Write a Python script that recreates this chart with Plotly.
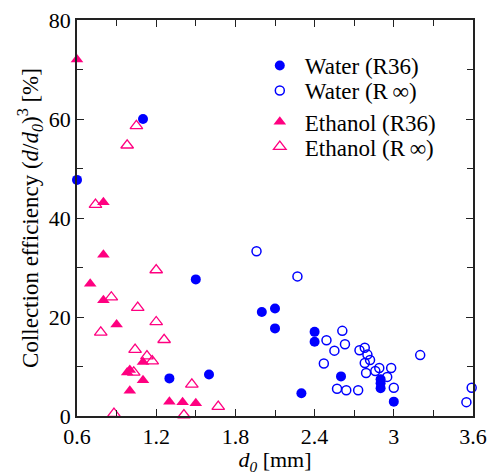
import plotly.graph_objects as go

# Water (R36) - filled circles
water_r36_d = [0.6, 1.1, 1.3, 1.5, 1.6, 2.0, 2.1, 2.1, 2.3, 2.4, 2.4, 2.6, 2.9, 2.9, 2.9, 3.0]
water_r36_v = [47.7, 60.0, 7.6, 27.6, 8.4, 21.0, 21.7, 17.7, 4.6, 17.0, 15.0, 8.0, 7.4, 6.6, 5.6, 2.9]

# Water (R inf) - open circles
water_rinf_d = [1.96, 2.27, 2.61, 2.49, 2.63, 2.55, 2.74, 2.78, 2.80, 2.82, 2.78, 2.47,
                3.20, 2.89, 2.98, 2.86, 2.79, 2.95, 2.57, 2.64, 2.73, 3.0, 3.55, 3.59]
water_rinf_v = [33.3, 28.2, 17.2, 15.3, 14.5, 13.2, 13.3, 13.8, 12.4, 11.3, 10.7, 10.6,
                12.3, 9.7, 9.7, 9.1, 8.7, 7.9, 5.5, 5.2, 5.2, 5.7, 2.8, 5.7]

# Ethanol (R36) - filled triangles
eth_r36_d = [0.6, 0.8, 0.8, 0.7, 0.8, 0.9, 1.1, 1.0, 0.98, 1.1, 1.0, 1.3, 1.4, 1.5]
eth_r36_v = [72.0, 43.2, 32.6, 26.7, 23.4, 18.5, 10.9, 9.3, 8.8, 7.2, 5.1, 2.9, 2.8, 2.6]

# Ethanol (R inf) - open triangles
eth_rinf_d = [0.98, 1.05, 0.74, 1.2, 0.86, 1.06, 1.2, 0.78, 1.26, 1.04, 1.13, 1.17,
              1.03, 1.47, 1.67, 0.88, 1.41]
eth_rinf_v = [54.7, 58.6, 42.7, 29.5, 24.0, 21.9, 19.0, 16.9, 15.4, 13.4, 12.1, 11.1,
              8.8, 6.4, 1.9, 0.5, 0.2]

x_ticks = [0.6, 1.2, 1.8, 2.4, 3.0, 3.6]
x_tick_labels = ["0.6", "1.2", "1.8", "2.4", "3", "3.6"]
y_ticks = [0, 20, 40, 60, 80]

BLUE = "#0000FF"
PINK = "#FF0080"
FONT = "'Liberation Serif', 'Times New Roman', Times, serif"

fig = go.Figure()
fig.add_trace(go.Scatter(x=water_r36_d, y=water_r36_v, mode="markers", name="Water (R36)",
                         legend="legend", cliponaxis=False,
                         marker=dict(symbol="circle", size=10, color=BLUE)))
fig.add_trace(go.Scatter(x=water_rinf_d, y=water_rinf_v, mode="markers", name="Water (R\u2009∞)",
                         legend="legend2", cliponaxis=False,
                         marker=dict(symbol="circle-open", size=9, color=BLUE,
                                     line=dict(width=1.5, color=BLUE))))
fig.add_trace(go.Scatter(x=eth_r36_d, y=eth_r36_v, mode="markers", name="Ethanol (R36)",
                         legend="legend3", cliponaxis=False,
                         marker=dict(symbol="triangle-up", size=11, color=PINK)))
fig.add_trace(go.Scatter(x=eth_rinf_d, y=eth_rinf_v, mode="markers", name="Ethanol (R\u2009∞)",
                         legend="legend4", cliponaxis=False,
                         marker=dict(symbol="triangle-up-open", size=11, color=PINK,
                                     line=dict(width=1.3, color=PINK))))

axis_common = dict(showline=True, linecolor="#222", linewidth=1.5, mirror="ticks",
                   ticks="inside", ticklen=7, tickwidth=1.3, tickcolor="#222",
                   showgrid=False, zeroline=False, automargin=False,
                   tickfont=dict(family=FONT, size=22, color="black"))

fig.update_xaxes(range=[0.6, 3.6], tickvals=x_ticks, ticktext=x_tick_labels,
                 minor=dict(dtick=0.3, tick0=0.6, ticks="inside", ticklen=6, tickwidth=1.3, tickcolor="#222"),
                 title=dict(text="<i>d<sub>0</sub></i> [mm]", font=dict(family=FONT, size=22, color="black"),
                            standoff=2),
                 **axis_common)
fig.update_yaxes(range=[0, 80], tickvals=y_ticks,
                 minor=dict(dtick=10, tick0=0, ticks="inside", ticklen=6, tickwidth=1.3, tickcolor="#222"),
                 title=dict(text="Collection efficiency (<i>d</i>/<i>d<sub>0</sub></i>)<sup>3</sup> [%]",
                            font=dict(family=FONT, size=23, color="black"), standoff=4),
                 **axis_common)

legend_common = dict(x=0.449, xanchor="left", yanchor="middle", bgcolor="rgba(0,0,0,0)",
                     font=dict(family=FONT, size=23, color="black"), itemwidth=40)

fig.update_layout(
    width=496, height=475,
    margin=dict(l=77, r=23, t=20, b=59),
    paper_bgcolor="white", plot_bgcolor="white",
    font=dict(family=FONT, color="black"),
    showlegend=True,
    legend=dict(y=0.885, **legend_common),
    legend2=dict(y=0.822, **legend_common),
    legend3=dict(y=0.743, **legend_common),
    legend4=dict(y=0.680, **legend_common),
)

fig.write_html("out.html", config={"displayModeBar": False},
               post_script="document.body.style.margin='0';")
